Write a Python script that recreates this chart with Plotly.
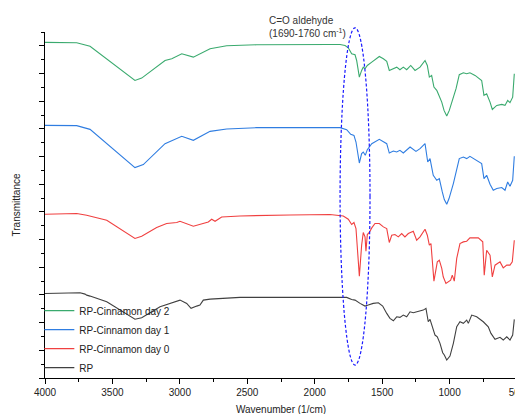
import plotly.graph_objects as go

# ---- data (wavenumber in 1/cm, transmittance in arbitrary offset units) ----
day2_wn = [4000, 3765, 3666, 3333, 3283, 3110, 3060, 2986, 2900, 2776, 2653, 2430, 1887, 1812, 1775,
           1751, 1726, 1701, 1689, 1669, 1652, 1640, 1627, 1610, 1577, 1521, 1491, 1466, 1447, 1417,
           1392, 1368, 1343, 1318, 1288, 1256, 1219, 1182, 1165, 1150, 1133, 1116, 1095, 1084, 1058,
           1041, 1021, 1002, 972, 952, 928, 898, 873, 849, 811, 762, 745, 725, 700, 683, 650, 613,
           589, 569, 552, 532, 520]
day2_t = [97.0, 96.88, 95.90, 86.00, 86.67, 91.77, 92.27, 93.71, 92.73, 95.15, 96.02, 96.31, 96.39, 96.39, 96.10,
          95.44, 93.71, 93.42, 91.77, 86.96, 88.89, 89.84, 89.38, 90.33, 91.28, 92.93, 92.27, 91.49, 88.89, 89.38,
          89.84, 89.09, 89.84, 89.09, 90.33, 88.89, 89.84, 91.77, 90.33, 86.96, 87.45, 84.07, 83.12, 82.16, 79.74,
          77.34, 75.70, 77.34, 80.72, 83.61, 87.65, 88.22, 87.94, 88.22, 87.45, 86.00, 81.67, 82.16, 79.74, 77.63,
          78.79, 79.08, 78.79, 80.23, 79.57, 81.18, 87.94]

day1_wn = [4000, 3765, 3666, 3333, 3271, 3110, 2986, 2900, 2776, 2653, 2430, 1887, 1812, 1763, 1733,
           1709, 1694, 1669, 1652, 1640, 1625, 1610, 1577, 1521, 1491, 1466, 1447, 1417, 1392, 1368,
           1343, 1318, 1293, 1249, 1219, 1182, 1162, 1145, 1121, 1095, 1076, 1054, 1039, 1021, 1004,
           972, 952, 928, 898, 873, 849, 799, 762, 745, 725, 700, 676, 650, 613, 589, 569, 552, 532, 520]
day1_t = [73.02, 72.93, 71.86, 60.81, 61.67, 67.73, 69.84, 68.69, 71.28, 71.95, 72.35, 72.53, 72.35, 71.77, 70.42,
          70.13, 68.20, 62.14, 64.85, 65.31, 64.36, 66.00, 67.73, 68.98, 68.20, 67.73, 65.02, 65.60, 65.31, 65.80,
          65.02, 65.80, 66.75, 65.51, 66.29, 67.73, 62.42, 63.41, 58.59, 57.14, 57.63, 53.77, 51.57, 50.22, 51.86,
          56.19, 59.54, 63.41, 63.87, 63.41, 64.07, 62.91, 61.96, 57.63, 58.59, 55.99, 54.26, 54.75, 55.04, 54.26,
          56.65, 55.41, 57.14, 64.07]

day0_wn = [4000, 3765, 3691, 3542, 3333, 3283, 3172, 3098, 3023, 2999, 2900, 2826, 2789, 2764, 2739,
           2690, 2554, 2183, 1887, 1788, 1751, 1726, 1709, 1694, 1669, 1652, 1640, 1627, 1620, 1610,
           1595, 1577, 1553, 1521, 1491, 1466, 1447, 1429, 1405, 1380, 1355, 1331, 1306, 1269, 1244,
           1219, 1182, 1165, 1150, 1138, 1116, 1091, 1076, 1058, 1047, 1027, 1017, 992, 980, 965, 947,
           923, 898, 873, 849, 787, 754, 743, 725, 700, 683, 663, 626, 602, 576, 552, 535, 520]
day0_t = [47.33, 47.53, 47.04, 45.60, 40.32, 40.98, 43.49, 44.65, 44.94, 45.31, 43.87, 44.65, 45.11, 45.89, 45.31,
          46.55, 46.84, 47.13, 47.24, 46.84, 45.89, 44.36, 44.94, 43.20, 29.44, 38.38, 42.05, 40.78, 36.65, 41.47,
          42.05, 43.38, 44.65, 44.65, 43.67, 43.20, 39.16, 41.27, 41.47, 40.78, 41.76, 40.78, 41.76, 42.42, 39.83,
          40.78, 43.00, 41.27, 38.38, 38.87, 27.99, 33.56, 34.05, 31.66, 29.24, 27.33, 27.62, 28.28, 29.73, 27.99, 34.55,
          38.87, 39.34, 39.54, 40.49, 40.49, 39.34, 29.73, 36.94, 35.50, 29.24, 32.61, 33.56, 31.83, 32.61, 32.61, 33.56, 39.83]

rp_wn = [4000, 3740, 3703, 3691, 3666, 3542, 3333, 3283, 3147, 2999, 2949, 2917, 2875, 2851, 2826,
         2776, 2554, 1812, 1763, 1726, 1701, 1664, 1627, 1603, 1566, 1528, 1496, 1466, 1442, 1417,
         1392, 1368, 1343, 1318, 1293, 1269, 1232, 1195, 1175, 1158, 1145, 1133, 1108, 1091, 1071,
         1051, 1039, 1021, 997, 972, 947, 923, 898, 873, 861, 836, 799, 750, 713, 693, 663, 626,
         602, 576, 552, 532, 520]
rp_t = [24.44, 24.62, 24.24, 23.95, 23.67, 22.02, 16.97, 17.40, 20.58, 22.51, 21.56, 20.12, 20.78, 21.07, 22.51,
        22.80, 23.29, 23.46, 23.29, 22.71, 22.51, 21.56, 20.78, 21.07, 21.56, 21.73, 20.78, 18.67, 17.23, 16.54,
        17.69, 17.52, 18.18, 17.69, 19.13, 18.85, 19.13, 19.62, 20.12, 16.25, 16.94, 15.30, 12.41, 11.92, 10.01,
        7.30, 6.64, 5.19, 6.35, 10.01, 14.81, 16.25, 15.79, 16.74, 15.79, 18.18, 17.69, 16.25, 14.81, 12.90, 11.17, 11.75,
        10.97, 11.92, 10.97, 12.41, 16.94]

series_names = ["RP-Cinnamon day 2", "RP-Cinnamon day 1", "RP-Cinnamon day 0", "RP"]
series_x = [day2_wn, day1_wn, day0_wn, rp_wn]
series_y = [day2_t, day1_t, day0_t, rp_t]
series_colors = ["#3aaa6e", "#2f7de1", "#f04040", "#404040"]

# highlighted C=O aldehyde region (ellipse extent in wavenumber / transmittance)
region_wn = [1812, 1590]
region_t = [3.75, 101.2]
region_label = "C=O aldehyde<br>(1690-1760 cm<sup>-1</sup>)"
region_label_wn = 2354

x_ticks = [4000, 3500, 3000, 2500, 2000, 1500, 1000, 500]

fig = go.Figure()
for name, xs, ys, c in zip(series_names, series_x, series_y, series_colors):
    fig.add_trace(go.Scatter(x=xs, y=ys, mode="lines", name=name,
                             line=dict(color=c, width=1.1)))

y_lo, y_hi = 0, 100
fig.add_shape(type="circle", xref="x", yref="paper",
              x0=region_wn[0], x1=region_wn[1],
              y0=(region_t[0] - y_lo) / (y_hi - y_lo), y1=(region_t[1] - y_lo) / (y_hi - y_lo),
              line=dict(color="#1a1aff", width=1.2, dash="3px,2px"))

fig.add_annotation(x=region_label_wn, xref="x", y=1.054, yref="paper",
                   text=region_label, showarrow=False, xanchor="left", yanchor="top",
                   align="left", font=dict(size=10, color="#333333"))

# page body has an 8px default margin, so the figure is offset to compensate
fig.update_layout(
    width=523, height=414,
    margin=dict(l=37, r=14, t=24, b=44, autoexpand=False),
    paper_bgcolor="white", plot_bgcolor="white",
    font=dict(family="Liberation Sans, Arial, sans-serif", size=10, color="#222222"),
    showlegend=True,
    legend=dict(x=-0.012, y=-0.012, xanchor="left", yanchor="bottom",
                bgcolor="rgba(0,0,0,0)", font=dict(size=10, color="#222222"),
                tracegroupgap=0),
)
fig.update_xaxes(range=[4000, 500], tickmode="array", tickvals=x_ticks,
                 ticktext=[str(v) for v in x_ticks], automargin=False,
                 ticklabeloverflow="allow",
                 ticks="outside", ticklen=5, tickcolor="black", tickwidth=1,
                 minor=dict(ticks="outside", ticklen=3, dtick=250, tick0=0, tickcolor="black"),
                 showline=True, linecolor="black", linewidth=1, showgrid=False, zeroline=False,
                 title=dict(text="Wavenumber (1/cm)", standoff=8, font=dict(size=10)),
                 tickfont=dict(size=10, color="#222222"))
fig.update_yaxes(range=[y_lo, y_hi], dtick=8, tick0=0, showticklabels=False, automargin=False,
                 ticks="outside", ticklen=5, tickcolor="black", tickwidth=1,
                 minor=dict(ticks="outside", ticklen=3, dtick=4, tick0=0, tickcolor="black"),
                 showline=True, linecolor="black", linewidth=1, showgrid=False, zeroline=False,
                 title=dict(text="Transmittance", standoff=16, font=dict(size=10)))

fig.write_html("out.html",
               post_script="document.documentElement.style.overflow='hidden';"
                           "document.body.style.overflow='hidden';")
